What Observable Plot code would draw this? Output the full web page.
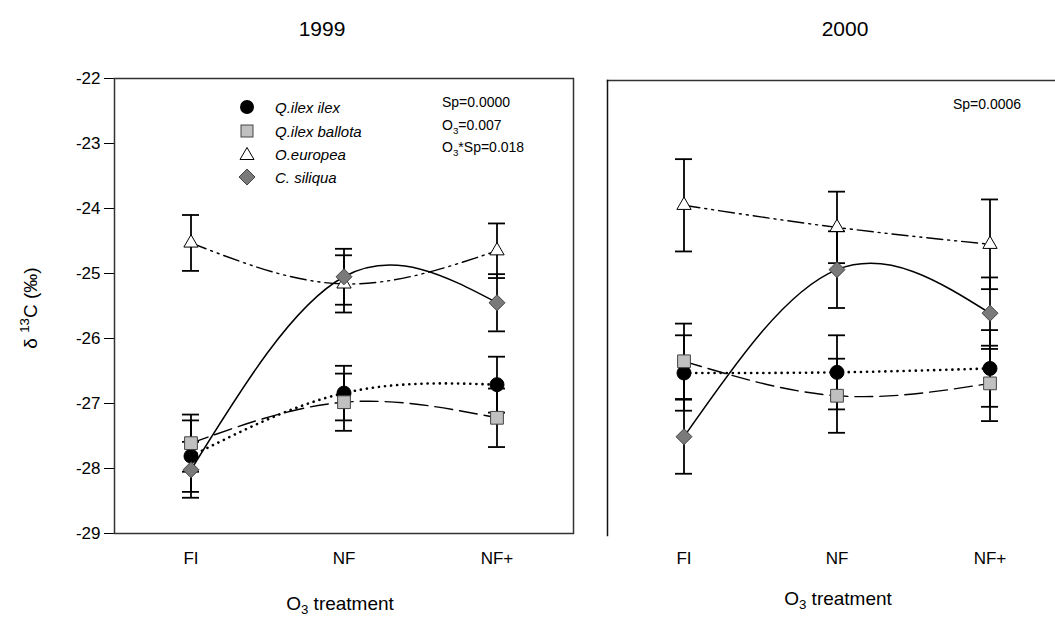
<!DOCTYPE html>
<html><head><meta charset="utf-8">
<script src="https://cdn.jsdelivr.net/npm/d3@7"></script>
<script src="https://cdn.jsdelivr.net/npm/@observablehq/plot@0.6"></script>
<style>
html,body{margin:0;padding:0;background:#fff;overflow:hidden;}
#wrap{position:relative;width:1055px;height:629px;overflow:hidden;font-family:"Liberation Sans",Arial,Helvetica,sans-serif;color:#000;}
.abs{position:absolute;white-space:nowrap;line-height:1;}
sub,sup{font-size:70%;line-height:0;}
.panel{position:absolute;top:0;}
</style></head><body><div id="wrap"></div>
<script>
// ---- data ----
const treatments = ["FI", "NF", "NF+"];
const species = ["Q.ilex ilex", "Q.ilex ballota", "O.europea", "C. siliqua"];
const yTicks = [-29, -28, -27, -26, -25, -24, -23, -22];

// 1999 means and error half-widths, order FI, NF, NF+
const ilex1999 = [-27.81, -26.84, -26.71];
const ilexErr1999 = [0.55, 0.42, 0.43];
const ballota1999 = [-27.61, -26.98, -27.22];
const ballotaErr1999 = [0.44, 0.44, 0.45];
const europea1999 = [-24.53, -25.16, -24.65];
const europeaErr1999 = [0.43, 0.44, 0.42];
const siliqua1999 = [-28.02, -25.05, -25.45];
const siliquaErr1999 = [0.43, 0.43, 0.44];

// 2000
const ilex2000 = [-26.50, -26.49, -26.43];
const ilexErr2000 = [0.58, 0.57, 0.59];
const ballota2000 = [-26.32, -26.85, -26.66];
const ballotaErr2000 = [0.58, 0.57, 0.58];
const europea2000 = [-23.92, -24.26, -24.52];
const europeaErr2000 = [0.71, 0.55, 0.69];
const siliqua2000 = [-27.48, -24.91, -25.58];
const siliquaErr2000 = [0.57, 0.59, 0.55];

const stats1999 = ["Sp=0.0000", "O<sub>3</sub>=0.007", "O<sub>3</sub>*Sp=0.018"];
const stats2000 = ["Sp=0.0006"];

// ---- styles per species ----
const styles = {
  "Q.ilex ilex":    {symbol: "circle",   r: 7,   fill: "#000",    stroke: "#000", line: {strokeDasharray: "0.1,6", strokeWidth: 2.6, strokeLinecap: "round"}},
  "Q.ilex ballota": {symbol: "square",   r: 7.2, fill: "#c0c0c0", stroke: "#444", line: {strokeDasharray: "18,7", strokeWidth: 1.4}},
  "O.europea":      {symbol: "triangle", r: 5.3, fill: "#fff",    stroke: "#000", line: {strokeDasharray: "16,5,2,5,2,5", strokeWidth: 1.4}},
  "C. siliqua":     {symbol: "diamond2", r: 7.2, fill: "#7a7a7a", stroke: "#444", line: {strokeWidth: 1.5}}
};

function rowsFor(seriesMeans, seriesErrs) {
  const rows = [];
  species.forEach((s, si) => {
    treatments.forEach((t, ti) => {
      const m = seriesMeans[si][ti], e = seriesErrs[si][ti];
      rows.push({species: s, t, mean: m, lo: m - e, hi: m + e});
    });
  });
  return rows;
}

const data1999 = rowsFor([ilex1999, ballota1999, europea1999, siliqua1999],
                         [ilexErr1999, ballotaErr1999, europeaErr1999, siliquaErr1999]);
const data2000 = rowsFor([ilex2000, ballota2000, europea2000, siliqua2000],
                         [ilexErr2000, ballotaErr2000, europeaErr2000, siliquaErr2000]);

function seriesMarks(data) {
  const marks = [];
  for (const s of species) {
    const d = data.filter(r => r.species === s);
    marks.push(Plot.line(d, {x: "t", y: "mean", curve: "natural", stroke: "#000", ...styles[s].line}));
  }
  marks.push(Plot.ruleX(data, {x: "t", y1: "lo", y2: "hi", stroke: "#000", strokeWidth: 1.8}));
  marks.push(Plot.tickY(data, {x: "t", y: "lo", stroke: "#000", strokeWidth: 1.8}));
  marks.push(Plot.tickY(data, {x: "t", y: "hi", stroke: "#000", strokeWidth: 1.8}));
  for (const s of ["O.europea", "Q.ilex ilex", "Q.ilex ballota", "C. siliqua"]) {
    const st = styles[s];
    marks.push(Plot.dot(data.filter(r => r.species === s),
      {x: "t", y: "mean", symbol: () => st.symbol, r: st.r, fill: st.fill, stroke: st.stroke, strokeWidth: 1}));
  }
  return marks;
}

const common = {
  height: 629,
  style: {fontFamily: "Liberation Sans, Arial, sans-serif", fontSize: "17px", color: "#000", background: "transparent", overflow: "visible"},
  symbol: {type: "identity"}
};
const xScale = {type: "band", domain: treatments, paddingInner: 0.889, paddingOuter: 0.444};

const left = Plot.plot({
  ...common,
  width: 590, marginLeft: 114, marginRight: 17, marginTop: 78, marginBottom: 96,
  x: xScale,
  y: {domain: [-29, -22]},
  marks: [
    Plot.axisY({ticks: yTicks, tickFormat: d => String(d), tickSize: 10, tickPadding: 4, label: null, fontSize: 17}),
    Plot.axisX({tickSize: 0, tickPadding: 18, label: null, fontSize: 17}),
    Plot.frame({stroke: "#333", strokeWidth: 1.5}),
    ...seriesMarks(data1999)
  ]
});
left.classList.add("panel");
left.style.left = "0px";

const right = Plot.plot({
  ...common,
  width: 476, marginLeft: 17, marginRight: 0, marginTop: 80, marginBottom: 94,
  x: xScale,
  y: {domain: [-29, -22], axis: null},
  marks: [
    Plot.axisX({tickSize: 0, tickPadding: 16, label: null, fontSize: 17}),
    Plot.frame({anchor: "top", stroke: "#333", strokeWidth: 1.5}),
    Plot.frame({anchor: "left", stroke: "#111", strokeWidth: 1.5}),
    ...seriesMarks(data2000)
  ]
});
right.classList.add("panel");
right.style.left = "590px";

const wrap = document.getElementById("wrap");
wrap.appendChild(left);
wrap.appendChild(right);

function put(html, x, y, opts = {}) {
  const d = document.createElement("div");
  d.className = "abs";
  d.innerHTML = html;
  d.style.left = x + "px";
  d.style.top = y + "px";
  d.style.fontSize = (opts.size || 14) + "px";
  if (opts.italic) d.style.fontStyle = "italic";
  const tx = opts.center ? "-50%" : "0";
  d.style.transform = `translate(${tx},-50%)` + (opts.rotate ? ` rotate(${opts.rotate}deg)` : "");
  wrap.appendChild(d);
  return d;
}

// titles
put("1999", 322, 28, {size: 21, center: true});
put("2000", 845, 28, {size: 21, center: true});
// x axis titles
put("O<sub>3</sub> treatment", 340, 603, {size: 19, center: true});
put("O<sub>3</sub> treatment", 838, 598, {size: 19, center: true});
// y axis title
put("δ <sup>13</sup>C (‰)", 30, 308, {size: 19, center: true, rotate: -90});

// legend
const legendY = [107, 131, 154, 177];
const symPaths = {
  "Q.ilex ilex": '<circle cx="9" cy="9" r="7" fill="#000"/>',
  "Q.ilex ballota": '<rect x="3" y="3" width="12" height="12" fill="#c0c0c0" stroke="#444"/>',
  "O.europea": '<path d="M9,2.5L16,14.5L2,14.5Z" fill="#fff" stroke="#000"/>',
  "C. siliqua": '<path d="M9,1L17,9L9,17L1,9Z" fill="#7a7a7a" stroke="#444"/>'
};
species.forEach((s, i) => {
  put(`<svg width="18" height="18" style="display:block">${symPaths[s]}</svg>`, 238, legendY[i]);
  put(s, 275, legendY[i], {size: 15, italic: true});
});
// stats
const statsY = [102, 125, 147];
stats1999.forEach((s, i) => put(s, 442, statsY[i], {size: 14}));
put(stats2000[0], 953, 104, {size: 14});
</script></body></html>
